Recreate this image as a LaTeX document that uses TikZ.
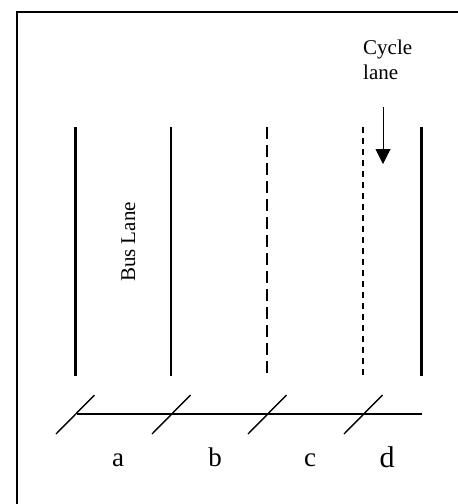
\documentclass[tikz,border=0pt]{standalone}
\usepackage{fontspec}
\setmainfont{Liberation Serif}
\usetikzlibrary{arrows.meta}
\begin{document}
\begin{tikzpicture}[x=1pt,y=-1pt,
  thickline/.style={line width=3pt},
  thinline/.style={line width=1.4pt},
  longdash/.style={line width=1.4pt,dash pattern=on 12pt off 6pt},
  shortdash/.style={line width=1.4pt,dash pattern=on 6pt off 5pt},
  tick/.style={line width=1.4pt},
  lbl/.style={font=\fontsize{27}{30}\selectfont,anchor=base,inner sep=0pt},
  small/.style={font=\fontsize{21}{25}\selectfont,inner sep=0pt}]
\useasboundingbox (0,0) rectangle (458,504);
% frame
\draw[line width=2pt] (17,504) -- (17,11.5) -- (458,11.5);
% lane markings
\coordinate (l1t) at (75,127);  \coordinate (l1b) at (75,376);
\coordinate (l2t) at (171,127); \coordinate (l2b) at (171,376);
\coordinate (l3t) at (267,127); \coordinate (l3b) at (267,376);
\coordinate (l4t) at (363,127); \coordinate (l4b) at (363,376);
\coordinate (l5t) at (421,127); \coordinate (l5b) at (421,376);
\draw[thickline] (l1t) -- (l1b);
\draw[thinline] (l2t) -- (l2b);
\draw[longdash] (l3t) -- (l3b);
\draw[shortdash] (l4t) -- (l4b);
\draw[thickline] (l5t) -- (l5b);
% baseline with ticks
\coordinate (h1) at (77,414); \coordinate (h2) at (422,414);
\draw[tick] (h1) -- (h2);
\foreach \x [count=\i] in {75,171,267,363}{
  \coordinate (s\i a) at (\x-19,434);
  \coordinate (s\i b) at (\x+19.5,395);
  \draw[tick] (s\i a) -- (s\i b);
}
% labels
\node[lbl] (la) at (118,466) {a};
\node[lbl] (lb) at (215,466) {b};
\node[lbl] (lc) at (310,466) {c};
\node[lbl,font=\fontsize{30}{33}\selectfont] (ld) at (387,467) {d};
% bus lane
\node[small,rotate=90,anchor=base] (bus) at (135,242) {Bus Lane};
% cycle lane
\node[small,anchor=base west,align=left] (cyc) at (363,79) {Cycle\\lane};
\coordinate (arrs) at (383,107);
\coordinate (arre) at (383,164);
\draw[line width=1pt,-{Triangle[width=15pt,length=15pt]}] (arrs) -- (arre);
\end{tikzpicture}
\end{document}
